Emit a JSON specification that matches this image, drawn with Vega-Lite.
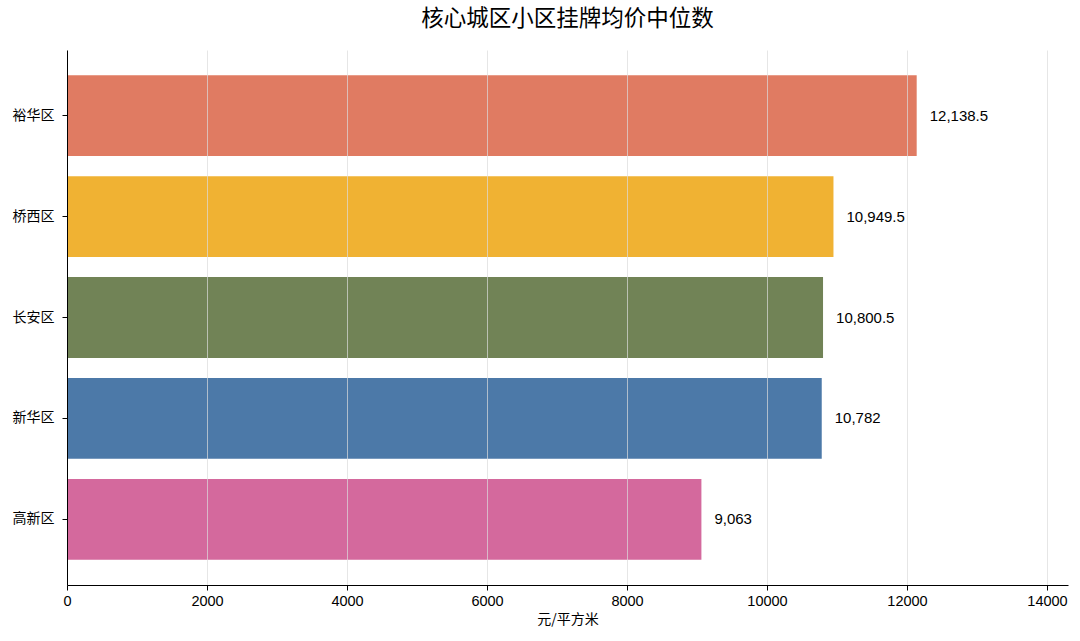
{
  "$schema": "https://vega.github.io/schema/vega-lite/v6.json",
  "description": "核心城区小区挂牌均价中位数, horizontal bars",
  "autosize": {"type": "none"},
  "padding": {"left": 67, "top": 50, "right": 12, "bottom": 56},
  "width": 1001,
  "height": 535,
  "background": "white",
  "view": {"stroke": null},
  "config": {
    "font": "Liberation Sans, Noto Sans CJK SC, sans-serif"
  },
  "title": {
    "text": "核心城区小区挂牌均价中位数",
    "fontSize": 22.5,
    "fontWeight": "normal",
    "font": "Noto Sans CJK SC",
    "color": "black",
    "anchor": "middle",
    "offset": 20
  },
  "data": {
    "values": [
      {"district": "裕华区", "price": 12138.5},
      {"district": "桥西区", "price": 10949.5},
      {"district": "长安区", "price": 10800.5},
      {"district": "新华区", "price": 10782},
      {"district": "高新区", "price": 9063}
    ]
  },
  "encoding": {
    "y": {
      "field": "district",
      "type": "nominal",
      "sort": null,
      "scale": {"paddingInner": 0.2, "paddingOuter": 0.25},
      "axis": {
        "title": null,
        "labelFontSize": 14,
        "labelFont": "Noto Sans CJK SC",
        "labelColor": "black",
        "labelPadding": 8,
        "tickColor": "black",
        "tickSize": 5,
        "domainColor": "black",
        "grid": false,
        "zindex": 2
      }
    },
    "x": {
      "field": "price",
      "type": "quantitative",
      "scale": {"domain": [0, 14300], "nice": false},
      "axis": {
        "title": "元/平方米",
        "titleFont": "Noto Sans CJK SC",
        "titleFontSize": 14,
        "titleFontWeight": "normal",
        "titleColor": "black",
        "titlePadding": 5,
        "values": [0, 2000, 4000, 6000, 8000, 10000, 12000, 14000],
        "format": "d",
        "labelFontSize": 14.5,
        "labelFlush": false,
        "labelColor": "black",
        "labelPadding": 4,
        "tickColor": "black",
        "tickSize": 5,
        "domainColor": "black",
        "grid": true,
        "gridColor": "#dcdcdc",
        "gridOpacity": 0.7,
        "zindex": 1
      }
    }
  },
  "layer": [
    {
      "mark": {"type": "bar"},
      "encoding": {
        "color": {
          "field": "district",
          "type": "nominal",
          "sort": null,
          "legend": null,
          "scale": {
            "domain": ["裕华区", "桥西区", "长安区", "新华区", "高新区"],
            "range": ["#E07B62", "#F0B233", "#718356", "#4C79A8", "#D4699D"]
          }
        }
      }
    },
    {
      "mark": {
        "type": "text",
        "align": "left",
        "baseline": "middle",
        "dx": 13,
        "fontSize": 15,
        "color": "black"
      },
      "encoding": {
        "text": {"field": "price", "type": "quantitative", "format": ","}
      }
    }
  ]
}
